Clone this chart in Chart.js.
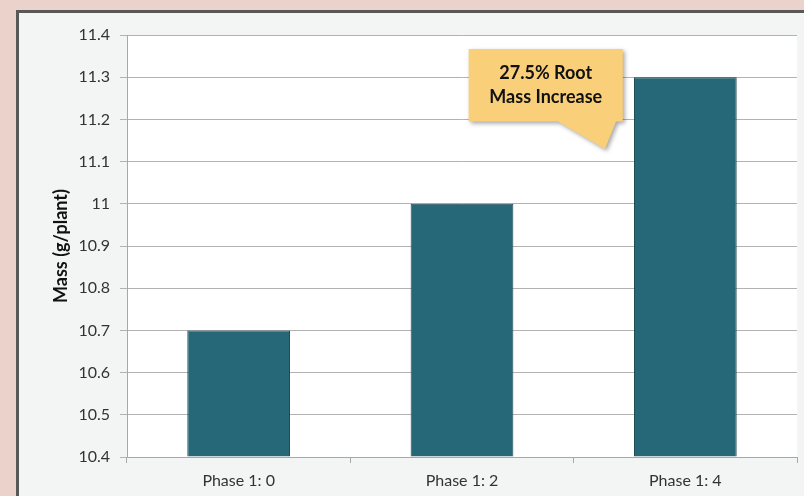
<!DOCTYPE html>
<html>
<head>
<meta charset="utf-8">
<script src="https://cdn.jsdelivr.net/npm/chart.js@4"></script>
<style>
  html, body { margin: 0; padding: 0; background: #ebd2ca; overflow: hidden; }
  #frame {
    position: absolute; left: 16px; top: 10px; width: 800px; height: 500px;
    border: 3px solid #585858; background: #f3f4f4;
  }
  #wrap { position: absolute; left: 0; top: 0; width: 785px; height: 483px; }
</style>
</head>
<body>
<div id="frame"><div id="wrap"><canvas id="massChart"></canvas></div></div>
<script>
// chart values
const categories = ['Phase 1: 0', 'Phase 1: 2', 'Phase 1: 4'];
const massValues = [10.7, 11.0, 11.3];
const calloutLines = ['27.5% Root', 'Mass Increase'];

const FONT = 'Lato, "Liberation Sans", sans-serif';

// white plot area
const plotBgPlugin = {
  id: 'plotBg',
  beforeDraw(chart) {
    const { ctx, chartArea: a } = chart;
    ctx.save();
    ctx.fillStyle = '#ffffff';
    ctx.fillRect(a.left, a.top, a.right - a.left, a.bottom - a.top);
    ctx.restore();
  }
};

// speech bubble, placed using the chart scales
const calloutPlugin = {
  id: 'callout',
  afterDatasetsDraw(chart) {
    const { ctx, scales: { x, y } } = chart;
    const left = x.getPixelForValue(1.03);
    const right = x.getPixelForValue(1.72);
    const top = y.getPixelForValue(11.367);
    const bottom = y.getPixelForValue(11.195);
    const tipX = x.getPixelForValue(1.64);
    const tipY = y.getPixelForValue(11.13);

    ctx.save();
    ctx.shadowColor = 'rgba(0,0,0,0.35)';
    ctx.shadowBlur = 4;
    ctx.shadowOffsetX = 2;
    ctx.shadowOffsetY = 2;
    ctx.fillStyle = '#f9cf79';
    ctx.beginPath();
    ctx.moveTo(left, top);
    ctx.lineTo(right, top);
    ctx.lineTo(right, bottom);
    ctx.lineTo(x.getPixelForValue(1.69), bottom);
    ctx.lineTo(tipX, tipY);
    ctx.lineTo(x.getPixelForValue(1.43), bottom);
    ctx.lineTo(left, bottom);
    ctx.closePath();
    ctx.fill();
    ctx.restore();

    ctx.save();
    ctx.fillStyle = '#111';
    ctx.font = 'bold 18px ' + FONT;
    ctx.textAlign = 'center';
    ctx.textBaseline = 'middle';
    const cx = (left + right) / 2;
    const cy = (top + bottom) / 2;
    ctx.fillText(calloutLines[0], cx, cy - 12);
    ctx.fillText(calloutLines[1], cx, cy + 12);
    ctx.restore();
  }
};

const ctx = document.getElementById('massChart').getContext('2d');
new Chart(ctx, {
  type: 'bar',
  data: {
    labels: categories,
    datasets: [{
      label: 'Mass',
      data: massValues,
      backgroundColor: '#266877',
      borderColor: '#1a4650',
      borderWidth: 1,
      categoryPercentage: 1,
      barPercentage: 0.46,
      base: 10.4
    }]
  },
  options: {
    responsive: true,
    maintainAspectRatio: false,
    animation: false,
    layout: { padding: { left: 0, right: 7, top: 22, bottom: 0 } },
    plugins: {
      legend: { display: false },
      tooltip: { enabled: false }
    },
    scales: {
      x: {
        grid: {
          display: true,
          drawOnChartArea: false,
          drawTicks: true,
          tickLength: 6,
          color: '#a8a8a8'
        },
        border: { color: '#a8a8a8' },
        ticks: {
          color: '#333',
          padding: 8,
          font: { family: FONT, size: 16 }
        },
        afterFit(scale) { scale.height = 39; }
      },
      y: {
        min: 10.4,
        max: 11.4,
        grid: { color: '#b2b2b2', tickLength: 7 },
        border: { color: '#a8a8a8' },
        ticks: {
          stepSize: 0.1,
          color: '#333',
          padding: 10,
          font: { family: FONT, size: 16 },
          callback: (v) => String(Math.round(v * 10) / 10)
        },
        title: {
          display: true,
          text: 'Mass (g/plant)',
          color: '#111',
          font: { family: FONT, size: 18, weight: 'bold' },
          padding: { top: 31, bottom: 0 }
        },
        afterFit(scale) { scale.width = 108; }
      }
    }
  },
  plugins: [plotBgPlugin, calloutPlugin]
});
</script>
</body>
</html>
